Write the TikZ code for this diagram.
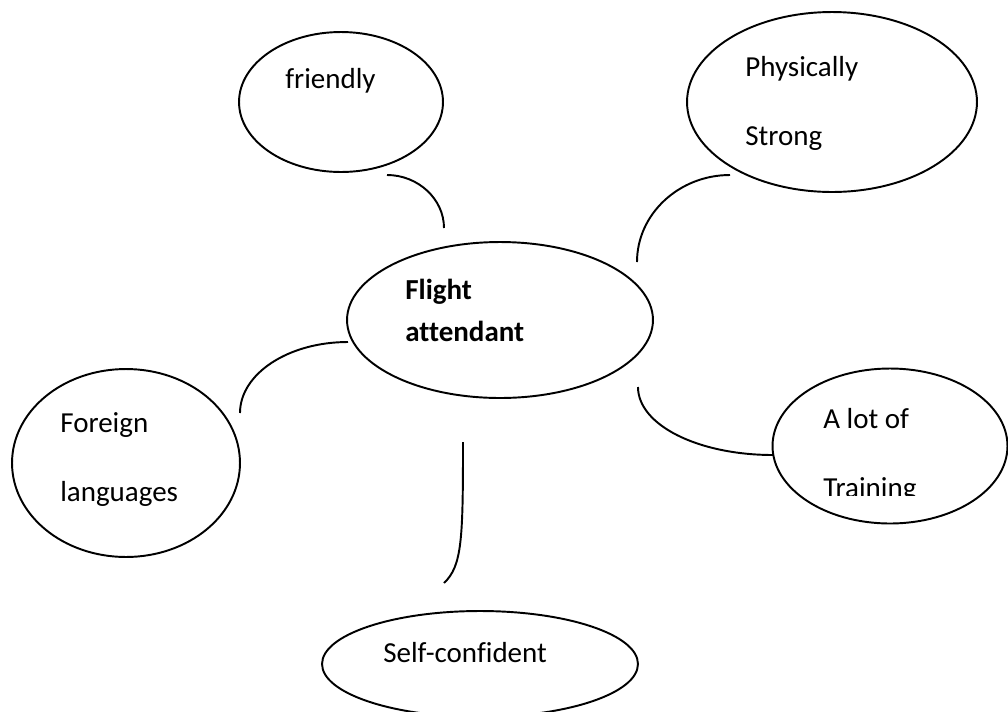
\documentclass[tikz,border=0pt]{standalone}
\usepackage{fontspec}
\setmainfont{Carlito}[Ligatures=NoCommon]
\usetikzlibrary{shapes.geometric}
\tikzset{
  bubble/.style={ellipse, draw, line width=1.1pt, inner sep=0pt, outer sep=0pt},
  word/.style={anchor=base west, inner sep=0pt, font=\fontsize{16.5}{20}\selectfont},
  link/.style={line width=1.1pt}
}
\begin{document}
\begin{tikzpicture}[x=0.02cm, y=-0.02cm]
  \clip (0,0) rectangle (1008,711);
  % bubbles
  \node[bubble, minimum width=4.08cm, minimum height=2.8cm]  (fr) at (341,102) {};
  \node[bubble, minimum width=5.8cm,  minimum height=3.6cm]  (ps) at (832,102) {};
  \node[bubble, minimum width=6.12cm, minimum height=3.12cm] (fa) at (500,320) {};
  \node[bubble, minimum width=4.56cm, minimum height=3.76cm] (fl) at (126,463) {};
  \node[bubble, minimum width=4.7cm,  minimum height=3.1cm]  (tr) at (890,446) {};
  \node[bubble, minimum width=6.32cm, minimum height=2.12cm] (sc) at (480,664) {};

  % texts
  \node[word] (frt)  at (285,88)  {friendly};
  \node[word] (pst1) at (745,76)  {Physically};
  \node[word] (pst2) at (745,145) {Strong};
  \node[word] (fat1) at (405,299) {\bfseries Flight};
  \node[word] (fat2) at (405,341) {\bfseries attendant};
  \node[word] (flt1) at (60,432)  {Foreign};
  \node[word] (flt2) at (60,501)  {languages};
  \node[word] (trt1) at (823,428) {A lot of};
  \begin{scope}
    \clip (800,460) rectangle (950,495);
    \node[word] (trt2) at (823,497) {Training};
  \end{scope}
  \node[word] (sct)  at (383,662) {Self-confident};

  % connectors (free ends)
  \coordinate (fr1) at (387,175); \coordinate (fr2) at (444,228);
  \coordinate (ps1) at (730,175); \coordinate (ps2) at (637,262);
  \coordinate (fl1) at (348,342); \coordinate (fl2) at (240,413);
  \coordinate (tr1) at (638,387); \coordinate (tr2) at (773,455);
  \coordinate (sc1) at (463,442); \coordinate (sc2) at (444,583);

  \draw[link] (fr1) .. controls (418,175) and (444,199) .. (fr2);
  \draw[link] (ps1) .. controls (679,175) and (637,214) .. (ps2);
  \draw[link] (fl1) .. controls (288,342) and (240,374) .. (fl2);
  \draw[link] (tr1) .. controls (638,425) and (698,455) .. (tr2);
  \draw[link] (sc1) .. controls (463,540) and (462,566) .. (sc2);
\end{tikzpicture}
\end{document}
